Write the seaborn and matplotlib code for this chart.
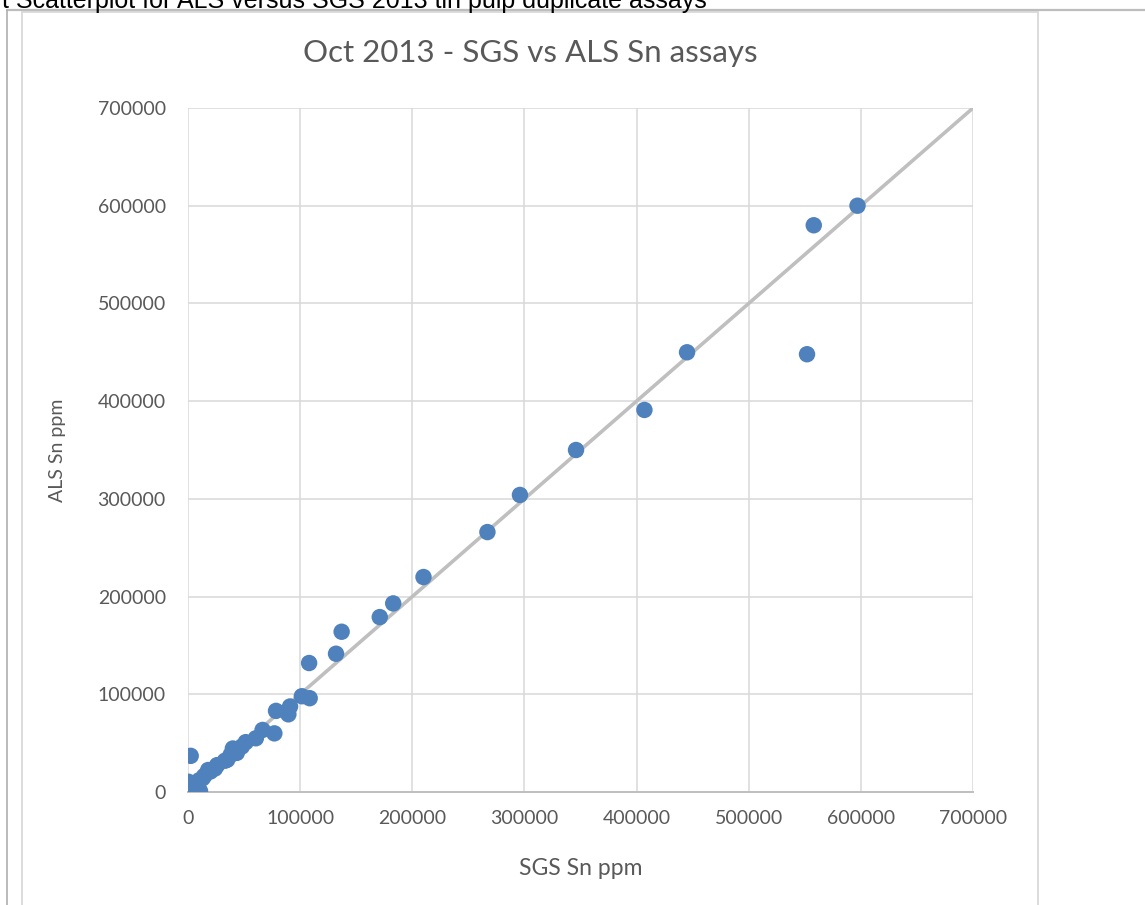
"""
Oct 2013 - SGS vs ALS Sn assays (pulp duplicates), scatter with 1:1 line.
"""

import matplotlib
matplotlib.use("Agg")
import matplotlib.pyplot as plt
from matplotlib.lines import Line2D
from matplotlib.patches import Rectangle
import pandas as pd
import seaborn as sns

# ------------------------------------------------------------
# Data
# ------------------------------------------------------------
sgs_ppm = [597000, 558000, 552000, 445000, 407000, 346000, 296000, 267000,
           210000, 183000, 171000, 137000, 132000, 108000, 101500, 108500,
           91000, 89500, 78500, 77000, 66500, 60500, 51500, 48000, 43500,
           40000, 38000, 35000, 33000, 26000, 24000, 20000, 18000, 14500,
           13000, 10000, 8000, 6000, 2400, 300, 200, 10700, 1800, 4500,
           100, 3000]
als_ppm = [600000, 580000, 448000, 450000, 391000, 350000, 304000, 266000,
           220000, 193000, 179000, 164000, 141500, 132000, 98000, 96000,
           87500, 79500, 83000, 60000, 63500, 55000, 51000, 46500, 40000,
           44500, 38000, 33000, 32000, 27500, 24000, 21000, 22500, 16500,
           14000, 12000, 9000, 7500, 37000, 10500, 0, 1000, 5500, 2000,
           300, 3500]

# 1:1 reference line
line_x = [0, 700000]
line_y = [0, 700000]

ticks = [0, 100000, 200000, 300000, 400000, 500000, 600000, 700000]

TITLE = "Oct 2013 - SGS vs ALS Sn assays"
CAPTION = "Scatterplot for ALS versus SGS 2013 tin pulp duplicate assays"

# ------------------------------------------------------------
# Style
# ------------------------------------------------------------
sns.set_theme(style="white")
plt.rcParams["font.family"] = ["Lato", "DejaVu Sans"]
TXT = "#595959"
GRID = "#D9D9D9"
BLUE = "#4F81BD"

W, H = 1145, 905
fig = plt.figure(figsize=(W / 100, H / 100), dpi=100)

# plot area in pixel box -> figure fractions
x0, x1, y0, y1 = 188, 973, 108, 792
ax = fig.add_axes([x0 / W, 1 - y1 / H, (x1 - x0) / W, (y1 - y0) / H])

df = pd.DataFrame({"SGS": sgs_ppm, "ALS": als_ppm})
line_df = pd.DataFrame({"x": line_x, "y": line_y})

sns.lineplot(data=line_df, x="x", y="y", color="#BFBFBF", linewidth=2.6,
             ax=ax, zorder=2)
sns.scatterplot(data=df, x="SGS", y="ALS", color=BLUE, s=140,
                edgecolor="none", ax=ax, zorder=3)

ax.set_xlim(0, 700000)
ax.set_ylim(0, 700000)
ax.set_xticks(ticks)
ax.set_yticks(ticks)
ax.set_xticklabels([str(t) for t in ticks])
ax.set_yticklabels([str(t) for t in ticks])
ax.grid(True, color=GRID, linewidth=1.1)
ax.set_axisbelow(True)
for side in ["top", "right", "left"]:
    ax.spines[side].set_visible(False)
ax.spines["bottom"].set_color("#BFBFBF")
ax.spines["bottom"].set_linewidth(1.4)
ax.spines["bottom"].set_zorder(1)
ax.tick_params(axis="both", length=0, labelsize=14, labelcolor=TXT)
ax.tick_params(axis="y", pad=16)
ax.tick_params(axis="x", pad=13)
for lab in ax.get_xticklabels() + ax.get_yticklabels():
    lab.set_clip_on(False)

ax.set_xlabel("SGS Sn ppm", fontsize=16.5, color=TXT)
ax.set_ylabel("ALS Sn ppm", fontsize=14, color=TXT)
ax.xaxis.set_label_coords(0.5, (y1 - 875) / (y1 - y0))
ax.xaxis.label.set_va("baseline")
ax.yaxis.set_label_coords((57 - x0) / (x1 - x0), 0.5)
ax.yaxis.label.set_va("center")

# title of the chart
fig.text(530 / W, 1 - 62 / H, TITLE, fontsize=22.5, color=TXT,
         ha="center", va="baseline")

# document frame around the chart (page border + chart area border)
fig.add_artist(Rectangle((22 / W, -0.05), (1038 - 22) / W, 1.05 - 12 / H,
                         transform=fig.transFigure, fill=False,
                         edgecolor=GRID, linewidth=1.3))
fig.add_artist(Line2D([7 / W, 1.0], [1 - 10 / H, 1 - 10 / H],
                      transform=fig.transFigure, color="#BDBDBD", linewidth=1.6))
fig.add_artist(Line2D([7 / W, 7 / W], [0, 1 - 10 / H],
                      transform=fig.transFigure, color="#AFAFAF", linewidth=1.2))

# caption of the figure, cut off at the top of the screenshot
fig.text(2 / W, 1 - 8 / H, "t " + CAPTION, fontsize=18, color="black",
         family=["Liberation Sans", "DejaVu Sans"], ha="left", va="baseline")

plt.savefig("out.png", dpi=100)
plt.close()
